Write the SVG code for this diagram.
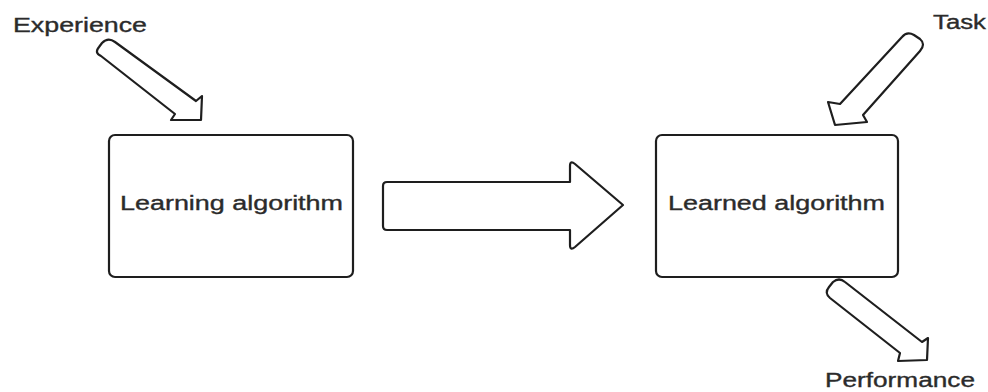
<svg xmlns="http://www.w3.org/2000/svg" width="988" height="392" viewBox="0 0 988 392">
  <style>
    .box { fill: #ffffff; stroke: #1e1e1e; stroke-width: 2.2; }
    .arrow { fill: #ffffff; stroke: #1e1e1e; stroke-width: 2.2; stroke-linejoin: round; }
    .label { font-family: "Liberation Sans", Arial, sans-serif; font-size: 20px; fill: #2b2b2b; stroke: #2b2b2b; stroke-width: 0.35; }
  </style>
  <rect width="988" height="392" fill="#ffffff"/>

  <!-- block arrows -->
  <g id="connectors">
    <!-- Experience into the learning algorithm -->
    <path class="arrow" d="M175,114 L171,120 L201,120 L202,96 L196,101 L115,42 Q108,37 102,43 L99,47 Q94,53 101,56 Z"/>
    <!-- learning algorithm to learned algorithm -->
    <path class="arrow" d="M387,182 L570,182 L570,166 Q570,160 575,164 L623,205 L575,247 Q570,251 570,245 L570,230 L387,230 Q383,230 383,226 L383,186 Q383,182 387,182 Z"/>
    <!-- Task into the learned algorithm -->
    <path class="arrow" d="M840,104 L828,102 L835,125 L867,122 L863,115 L920,51 Q926,44 920,39 L914,35 Q907,31 902,37 Z"/>
    <!-- learned algorithm out to Performance -->
    <path class="arrow" d="M900,353 L898,361 L927,360 L928,338 L922,342 L845,282 Q839,277 833,282 L829,287 Q824,293 830,298 Z"/>
  </g>

  <g id="learning-algorithm">
    <rect class="box" x="109" y="135" width="244" height="142" rx="6"/>
    <text class="label" x="120" y="210" textLength="223" lengthAdjust="spacingAndGlyphs">Learning algorithm</text>
  </g>

  <g id="learned-algorithm">
    <rect class="box" x="656" y="135" width="242" height="142" rx="6"/>
    <text class="label" x="668" y="210" textLength="217" lengthAdjust="spacingAndGlyphs">Learned algorithm</text>
  </g>

  <g id="experience">
    <text class="label" x="13" y="32" textLength="134" lengthAdjust="spacingAndGlyphs">Experience</text>
  </g>

  <g id="task">
    <text class="label" x="933" y="29" textLength="53" lengthAdjust="spacingAndGlyphs">Task</text>
  </g>

  <g id="performance">
    <text class="label" x="825" y="387" textLength="150" lengthAdjust="spacingAndGlyphs">Performance</text>
  </g>
</svg>
